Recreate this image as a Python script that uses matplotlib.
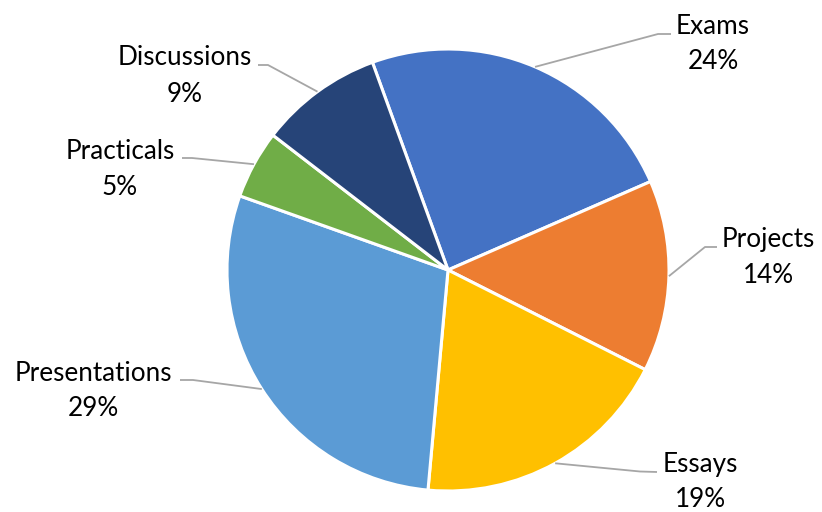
import matplotlib
matplotlib.use('Agg')
import matplotlib.pyplot as plt
import numpy as np

categories = ['Exams', 'Projects', 'Essays', 'Presentations', 'Practicals', 'Discussions']
values = [24, 14, 19, 29, 5, 9]
pct_labels = ['24%', '14%', '19%', '29%', '5%', '9%']
colors = ['#4472C4', '#ED7D31', '#FFC000', '#5B9BD5', '#70AD47', '#264478']

W, H = 822, 512
fig = plt.figure(figsize=(W / 100, H / 100), dpi=100)
ax = fig.add_axes([0, 0, 1, 1])
cx, cy, R = 448, H - 270, 221
wedges, _ = ax.pie(values, colors=colors, startangle=110, counterclock=False,
                   center=(cx, cy), radius=R,
                   wedgeprops=dict(edgecolor='white', linewidth=2.2))
ax.set_xlim(0, W)
ax.set_ylim(0, H)
ax.set_aspect('auto')
ax.axis('off')

# layout (pixel coords, origin top-left): text center x, name baseline, pct baseline,
# leader elbow and end
layout = {
    'Exams':         dict(x=713, b1=34,  b2=69,  elbow=(658, 34),  end=(671, 34)),
    'Projects':      dict(x=768, b1=247, b2=283, elbow=(705, 247), end=(717, 247)),
    'Essays':        dict(x=700, b1=472, b2=507, elbow=(640, 471.5), end=(657, 472)),
    'Presentations': dict(x=93,  b1=381, b2=416, elbow=(193, 380), end=(180, 380)),
    'Practicals':    dict(x=120, b1=159, b2=195, elbow=(192, 158), end=(182, 158)),
    'Discussions':   dict(x=185, b1=65,  b2=102, elbow=(268, 65),  end=(258, 65)),
}

font = dict(family=['Lato', 'DejaVu Sans'], fontsize=18.8, color='black')
for w, name, pct in zip(wedges, categories, pct_labels):
    L = layout[name]
    ang = np.deg2rad((w.theta1 + w.theta2) / 2)
    ex, ey = cx + R * np.cos(ang), cy + R * np.sin(ang)
    xs = [ex, L['elbow'][0], L['end'][0]]
    ys = [ey, H - L['elbow'][1], H - L['end'][1]]
    ax.plot(xs, ys, color='#A6A6A6', lw=1.3, solid_capstyle='butt', zorder=1)
    ax.text(L['x'], H - L['b1'], name, ha='center', va='baseline', **font)
    ax.text(L['x'], H - L['b2'], pct, ha='center', va='baseline', **font)

fig.savefig('out.png', dpi=100, facecolor='white')
